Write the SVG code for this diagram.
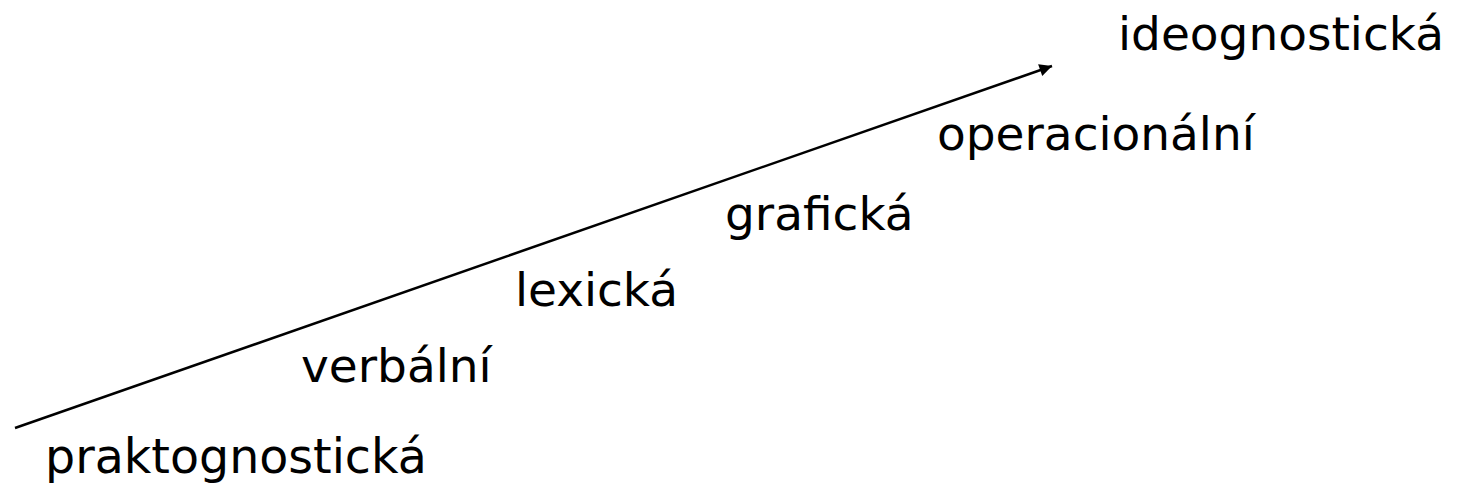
<svg xmlns="http://www.w3.org/2000/svg" width="1462" height="498" viewBox="0 0 1462 498">
  <style>
    .lbl { font-family: "DejaVu Sans", Verdana, sans-serif; font-size: 47px; fill: #000; }
    .conn { stroke: #000; stroke-width: 2.5; fill: none; }
  </style>
  <defs>
    <marker id="arrow" viewBox="0 0 10 10" refX="10" refY="5" markerWidth="6" markerHeight="5" markerUnits="strokeWidth" orient="auto">
      <path d="M0,0 L10,5 L0,10 z" fill="#000"/>
    </marker>
  </defs>
  <rect width="1462" height="498" fill="#fff"/>
  <g id="connectors">
    <line class="conn" x1="15" y1="428" x2="1052" y2="66" marker-end="url(#arrow)"/>
  </g>
  <g id="praktognosticka"><text class="lbl" x="45" y="473" style="font-size:47.5px">praktognostická</text></g>
  <g id="verbalni"><text class="lbl" x="301" y="382">verbální</text></g>
  <g id="lexicka"><text class="lbl" x="515" y="306">lexická</text></g>
  <g id="graficka"><text class="lbl" x="725" y="230">grafická</text></g>
  <g id="operacionalni"><text class="lbl" x="937" y="150">operacionální</text></g>
  <g id="ideognosticka"><text class="lbl" x="1118" y="50">ideognostická</text></g>
</svg>
